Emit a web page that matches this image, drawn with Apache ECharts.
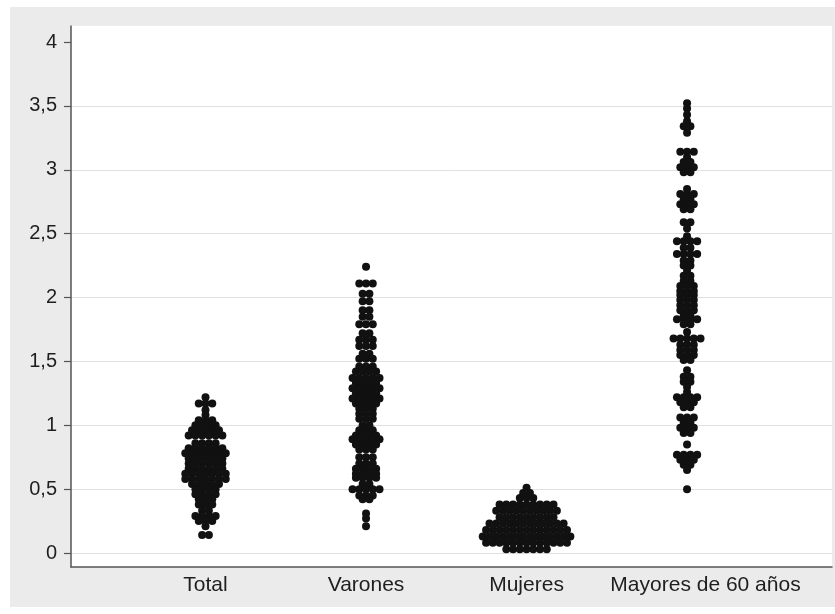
<!DOCTYPE html>
<html>
<head>
<meta charset="utf-8">
<script src="https://cdn.jsdelivr.net/npm/echarts@6/dist/echarts.min.js"></script>
<style>
  html, body { margin: 0; padding: 0; background: #fff; }
  #wrap { position: relative; width: 835px; height: 614px; }
  #bg { position: absolute; left: 10px; top: 7px; width: 825px; height: 600px; background: #ebebeb; }
  #chart { position: absolute; left: 0; top: 0; width: 835px; height: 614px; }
</style>
</head>
<body>
<div id="wrap"><div id="bg"></div><div id="chart"></div></div>
<script>
  // categorias del eje x
  const categories = ['Total', 'Varones', 'Mujeres', 'Mayores de 60 años']

  // cada fila: [valor, numero de puntos en esa fila]
  const totalRows = [
    [1.22, 1], [1.17, 3], [1.12, 1], [1.08, 1], [1.04, 3], [1.00, 4], [0.96, 5], [0.92, 6],
    [0.86, 4], [0.82, 6], [0.78, 7], [0.74, 6], [0.70, 6], [0.66, 6], [0.62, 7], [0.58, 7],
    [0.54, 5], [0.50, 4], [0.46, 4], [0.42, 3], [0.38, 3], [0.33, 2], [0.29, 4], [0.25, 3],
    [0.21, 1], [0.14, 2]
  ]
  const varonesRows = [
    [2.24, 1], [2.11, 3], [2.03, 2], [1.97, 2], [1.90, 2], [1.85, 2], [1.79, 3], [1.72, 2],
    [1.67, 3], [1.62, 3], [1.56, 2], [1.52, 3], [1.46, 3], [1.42, 4], [1.37, 5], [1.33, 4],
    [1.29, 5], [1.25, 4], [1.21, 5], [1.17, 4], [1.13, 3], [1.09, 3], [1.05, 3], [1.00, 2],
    [0.96, 3], [0.92, 4], [0.89, 5], [0.85, 4], [0.81, 3], [0.75, 3], [0.70, 3], [0.66, 4],
    [0.62, 4], [0.59, 4], [0.54, 2], [0.50, 5], [0.45, 3], [0.42, 2], [0.31, 1], [0.27, 1],
    [0.21, 1]
  ]
  const mujeresRows = [
    [0.51, 1], [0.47, 2], [0.43, 3], [0.38, 9], [0.33, 10], [0.28, 9], [0.23, 12], [0.18, 13],
    [0.13, 14], [0.08, 13], [0.03, 7]
  ]
  const mayoresRows = [
    [3.52, 1], [3.48, 1], [3.43, 1], [3.38, 1], [3.34, 2], [3.29, 1],
    [3.14, 3], [3.10, 1], [3.06, 2], [3.02, 3], [2.98, 2],
    [2.85, 1], [2.81, 3], [2.77, 2], [2.73, 3], [2.69, 2],
    [2.59, 2], [2.54, 1],
    [2.48, 1], [2.44, 4], [2.39, 2], [2.34, 4], [2.29, 2], [2.25, 2], [2.21, 1], [2.17, 2],
    [2.13, 2], [2.09, 3], [2.05, 3], [2.02, 3], [1.98, 3], [1.94, 3], [1.90, 3], [1.86, 2],
    [1.83, 4], [1.79, 2], [1.73, 1],
    [1.68, 5], [1.63, 3], [1.59, 3], [1.55, 3], [1.51, 2],
    [1.43, 1], [1.38, 2], [1.34, 2], [1.30, 1],
    [1.26, 1], [1.22, 4], [1.18, 3], [1.14, 2],
    [1.06, 3], [1.02, 2], [0.98, 3], [0.94, 2],
    [0.85, 1],
    [0.77, 4], [0.73, 3], [0.69, 2], [0.65, 1],
    [0.50, 1]
  ]

  const allRows = [totalRows, varonesRows, mujeresRows, mayoresRows]

  // separacion horizontal entre puntos (unidades del eje x)
  const dotStep = 0.042
  const xMin = 0.162
  const xMax = 4.903

  var myChart = echarts.init(document.getElementById('chart'), null, { renderer: 'canvas' })

  // puntos apilados por fila y centrados en cada categoria
  let dots = []
  allRows.forEach((rows, i) => {
    rows.forEach(r => {
      const n = r[1]
      for (let k = 0; k < n; k++) {
        dots.push([i + 1 + (k - (n - 1) / 2) * dotStep, r[0]])
      }
    })
  })

  let gridColors = []
  for (let i = 0; i < 8; i++) gridColors.push('#e0e0e0')
  gridColors.push('rgba(0,0,0,0)')

  let option = {
    backgroundColor: 'transparent',
    animation: false,
    grid: [
      { left: 71, right: 3, top: 26, bottom: 47, show: true, backgroundColor: '#fff', borderWidth: 0 },
      { left: 71, right: 3, top: 42, bottom: 61 }
    ],
    xAxis: [
      {
        gridIndex: 0,
        type: 'value',
        min: xMin,
        max: xMax,
        axisLine: { show: true, onZero: false, lineStyle: { color: '#555', width: 1.5 } },
        axisTick: { show: false },
        splitLine: { show: false },
        axisLabel: {
          customValues: [1, 2, 3, 4.115],
          formatter: v => categories[Math.round(v) - 1],
          fontSize: 21,
          color: '#1e1e1e',
          fontFamily: 'Liberation Sans, Arial, sans-serif',
          margin: 8
        }
      },
      { gridIndex: 1, type: 'value', min: xMin, max: xMax, show: false }
    ],
    yAxis: [
      {
        gridIndex: 0,
        type: 'value',
        min: -0.11,
        max: 4.125,
        axisLine: { show: true, onZero: false, lineStyle: { color: '#555', width: 1.5 } },
        axisTick: { show: false },
        axisLabel: { show: false },
        splitLine: { show: false }
      },
      {
        gridIndex: 1,
        type: 'value',
        min: 0,
        max: 4,
        interval: 0.5,
        axisLine: { show: false },
        axisTick: { show: true, length: 7, lineStyle: { color: '#555', width: 1.2 } },
        axisLabel: {
          fontSize: 20,
          color: '#1e1e1e',
          fontFamily: 'Liberation Sans, Arial, sans-serif',
          margin: 14,
          formatter: v => String(v).replace('.', ',')
        },
        splitLine: { show: true, showMaxLine: false, lineStyle: { color: gridColors, width: 1 } }
      }
    ],
    series: [
      {
        type: 'scatter',
        xAxisIndex: 1,
        yAxisIndex: 1,
        data: dots,
        symbol: 'circle',
        symbolSize: 8,
        itemStyle: { color: '#111', opacity: 1 },
        silent: true
      }
    ]
  }

  myChart.setOption(option)
</script>
</body>
</html>
